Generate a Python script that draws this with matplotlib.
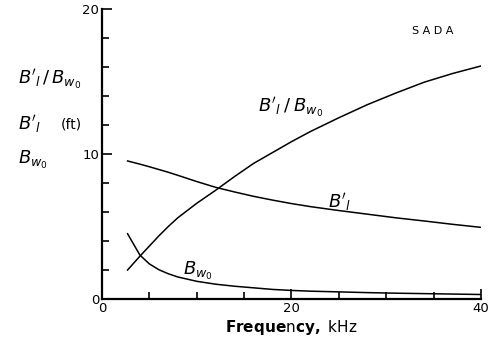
import numpy as np
import matplotlib.pyplot as plt
from matplotlib.ticker import MultipleLocator

# values
freq = [2.7, 4, 5, 6, 7, 8, 10, 12, 14, 16, 18, 20, 22, 25, 28, 31, 34, 37, 40]
b_w0 = [4.5, 3.03, 2.42, 2.02, 1.74, 1.52, 1.22, 1.02, 0.88, 0.77, 0.66, 0.59,
        0.54, 0.49, 0.44, 0.40, 0.37, 0.34, 0.31]
b_l = [9.52, 9.3, 9.12, 8.93, 8.74, 8.53, 8.1, 7.7, 7.38, 7.08, 6.82, 6.58,
       6.37, 6.1, 5.85, 5.6, 5.38, 5.15, 4.94]
ratio = [2.0, 2.95, 3.65, 4.35, 5.0, 5.6, 6.6, 7.5, 8.45, 9.35, 10.1, 10.85,
         11.55, 12.5, 13.4, 14.2, 14.95, 15.55, 16.07]

fig = plt.figure(figsize=(4.97, 3.43), dpi=100)
ax = fig.add_axes([0.2052, 0.1283, 0.7626, 0.8455])

for s in [b_w0, b_l, ratio]:
    ax.plot(freq, s, color='black', lw=1.1)

ax.set_xlim(0, 40)
ax.set_ylim(0, 20)
ax.spines['top'].set_visible(False)
ax.spines['right'].set_visible(False)
ax.spines['left'].set_linewidth(1.6)
ax.spines['bottom'].set_linewidth(1.6)

ax.xaxis.set_major_locator(MultipleLocator(20))
ax.xaxis.set_minor_locator(MultipleLocator(5))
ax.yaxis.set_major_locator(MultipleLocator(10))
ax.yaxis.set_minor_locator(MultipleLocator(2))
ax.tick_params(which='both', direction='in', width=1.2, labelsize=9.5)
ax.tick_params(which='major', length=7, pad=2)
ax.tick_params(which='minor', length=5)

# curve labels
ax.text(16.5, 12.9, r"$B'_l\:/\:B_{w_0}$", fontsize=13)
ax.text(23.9, 6.3, r"$B'_l$", fontsize=13)
ax.text(8.5, 1.65, r"$B_{w_0}$", fontsize=13)
ax.text(32.7, 18.5, "S A D A", fontsize=8, va='center')

# y label block
fig.text(0.036, 0.767, r"$B'_l\,/\,B_{w_0}$", fontsize=13, va='center')
fig.text(0.036, 0.638, r"$B'_l$", fontsize=13, va='center')
fig.text(0.122, 0.638, "(ft)", fontsize=10, va='center')
fig.text(0.036, 0.533, r"$B_{w_0}$", fontsize=13, va='center')

ax.set_xlabel(r"$\mathbf{Freque}\mathrm{n}\mathbf{cy,}\ \mathrm{kHz}$", fontsize=11, labelpad=2)

fig.savefig("out.png", dpi=100)
